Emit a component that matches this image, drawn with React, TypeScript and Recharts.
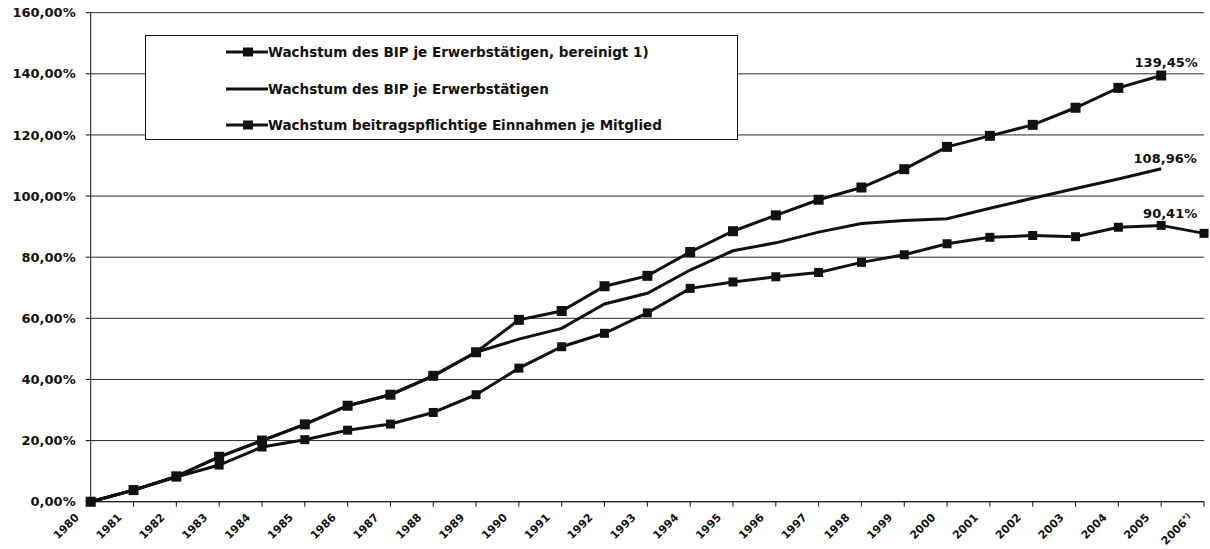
import React from 'react';
import { LineChart, Line, XAxis, YAxis, CartesianGrid, Legend } from 'recharts';

const years = [
  '1980', '1981', '1982', '1983', '1984', '1985', '1986', '1987', '1988', '1989',
  '1990', '1991', '1992', '1993', '1994', '1995', '1996', '1997', '1998', '1999',
  '2000', '2001', '2002', '2003', '2004', '2005', '2006*)',
];

const bipBereinigt = [
  0, 3.8, 8.3, 14.7, 20.0, 25.3, 31.4, 35.0, 41.2, 48.9,
  59.5, 62.4, 70.5, 73.9, 81.7, 88.5, 93.7, 98.8, 102.8, 108.8,
  116.1, 119.7, 123.3, 128.9, 135.4, 139.45, null,
];

const bipErwerb = [
  0, 3.8, 8.3, 14.7, 20.0, 25.3, 31.4, 35.0, 41.2, 48.9,
  53.2, 56.7, 64.7, 68.2, 75.8, 82.1, 84.7, 88.2, 91.0, 92.0,
  92.6, 96.0, 99.3, 102.5, 105.6, 108.96, null,
];

const einnahmen = [
  0, 3.8, 8.1, 12.0, 17.9, 20.3, 23.4, 25.4, 29.2, 35.0,
  43.7, 50.7, 55.1, 61.8, 69.8, 71.9, 73.6, 75.0, 78.3, 80.8,
  84.4, 86.5, 87.1, 86.7, 89.8, 90.41, 87.8,
];

const yTicks = [0, 20, 40, 60, 80, 100, 120, 140, 160];

const seriesNames = [
  'Wachstum des BIP je Erwerbstätigen, bereinigt 1)',
  'Wachstum des BIP je Erwerbstätigen',
  'Wachstum beitragspflichtige Einnahmen je Mitglied',
];

const labelYear = '2005';

const data = years.map((year, i) => ({
  year,
  bereinigt: bipBereinigt[i],
  bip: bipErwerb[i],
  einnahmen: einnahmen[i],
}));

const INK = '#111';
const FONT = '"DejaVu Sans", sans-serif';

const fmtPct = (v: number) => v.toFixed(2).replace('.', ',') + '%';

const squareDot = (size: number) => (props: any) => {
  const { cx, cy, index, value } = props;
  if (cx == null || cy == null || value == null) return <g key={`d-${index}`} />;
  return (
    <rect
      key={`d-${index}`}
      x={cx - size / 2}
      y={cy - size / 2}
      width={size}
      height={size}
      fill={INK}
    />
  );
};

const endLabel = (dx: number, dy: number) => (props: any) => {
  const { x, y, value, index } = props;
  if (years[index] !== labelYear || value == null) return <g key={`l-${index}`} />;
  return (
    <text
      key={`l-${index}`}
      x={x + dx}
      y={y + dy}
      textAnchor="middle"
      fontFamily={FONT}
      fontWeight="bold"
      fontSize={13}
      fill={INK}
    >
      {fmtPct(value)}
    </text>
  );
};

const XTick = (props: any) => {
  const { x, y, payload } = props;
  const ax = x - 11;
  const ay = y + 9.5;
  const label: string = String(payload.value);
  const star = label.indexOf('*');
  const main = star >= 0 ? label.slice(0, star) : label;
  const sup = star >= 0 ? label.slice(star) : '';
  return (
    <text
      x={ax}
      y={ay}
      transform={`rotate(-45, ${ax}, ${ay})`}
      textAnchor="end"
      fontFamily={FONT}
      fontWeight="bold"
      fontSize={11}
      fill={INK}
    >
      {main}
      {sup && (
        <tspan fontSize={8} dy={-3}>
          {sup}
        </tspan>
      )}
    </text>
  );
};

const LegendBox = () => {
  const rows = [
    { name: seriesNames[0], marker: true },
    { name: seriesNames[1], marker: false },
    { name: seriesNames[2], marker: true },
  ];
  return (
    <div
      style={{
        width: 593,
        height: 105,
        boxSizing: 'border-box',
        border: `1.5px solid ${INK}`,
        background: '#fff',
        position: 'relative',
      }}
    >
      {rows.map((r, i) => (
        <div
          key={r.name}
          style={{
            position: 'absolute',
            left: 80,
            top: 16 + i * 36.6 - 9,
            height: 18,
            display: 'flex',
            alignItems: 'center',
          }}
        >
          <svg width={42} height={18} style={{ display: 'block' }}>
            <line x1={0} y1={9} x2={42} y2={9} stroke={INK} strokeWidth={3} />
            {r.marker && <rect x={17} y={4.5} width={10} height={9} fill={INK} />}
          </svg>
          <span
            style={{
              fontFamily: FONT,
              fontWeight: 'bold',
              fontSize: 13.5,
              color: INK,
              whiteSpace: 'nowrap',
              lineHeight: '18px',
            }}
          >
            {r.name}
          </span>
        </div>
      ))}
    </div>
  );
};

export default function App() {
  return (
    <div style={{ position: 'absolute', left: 0, top: 0, width: 1210, height: 549, background: '#fff' }}>
      <LineChart
        width={1210}
        height={549}
        data={data}
        margin={{ top: 12.7, right: 6, bottom: 0, left: 0 }}
      >
        <CartesianGrid vertical={false} stroke="#2a2a2a" strokeWidth={1} strokeDasharray="" />
        <XAxis
          dataKey="year"
          interval={0}
          height={47.3}
          tickSize={5}
          tick={<XTick />}
          axisLine={{ stroke: INK, strokeWidth: 1 }}
          tickLine={{ stroke: INK, strokeWidth: 1 }}
        />
        <YAxis
          domain={[0, 160]}
          ticks={yTicks}
          width={90.7}
          tickSize={5}
          tickMargin={10}
          tickFormatter={fmtPct}
          axisLine={{ stroke: INK, strokeWidth: 1 }}
          tickLine={{ stroke: INK, strokeWidth: 1 }}
          tick={{ fontFamily: FONT, fontWeight: 'bold', fontSize: 13, fill: INK }}
          interval={0}
        />
        <Legend
          layout="vertical"
          align="center"
          verticalAlign="middle"
          content={<LegendBox />}
          wrapperStyle={{ left: 145, top: 35, width: 593, height: 105 }}
        />
        <Line
          type="linear"
          dataKey="bip"
          name={seriesNames[1]}
          stroke={INK}
          strokeWidth={3}
          dot={false}
          activeDot={false}
          isAnimationActive={false}
          label={endLabel(4, -6)}
        />
        <Line
          type="linear"
          dataKey="einnahmen"
          name={seriesNames[2]}
          stroke={INK}
          strokeWidth={3}
          dot={squareDot(9)}
          activeDot={false}
          isAnimationActive={false}
          label={endLabel(9, -7)}
        />
        <Line
          type="linear"
          dataKey="bereinigt"
          name={seriesNames[0]}
          stroke={INK}
          strokeWidth={3}
          dot={squareDot(10)}
          activeDot={false}
          isAnimationActive={false}
          label={endLabel(5, -9)}
        />
      </LineChart>
    </div>
  );
}
